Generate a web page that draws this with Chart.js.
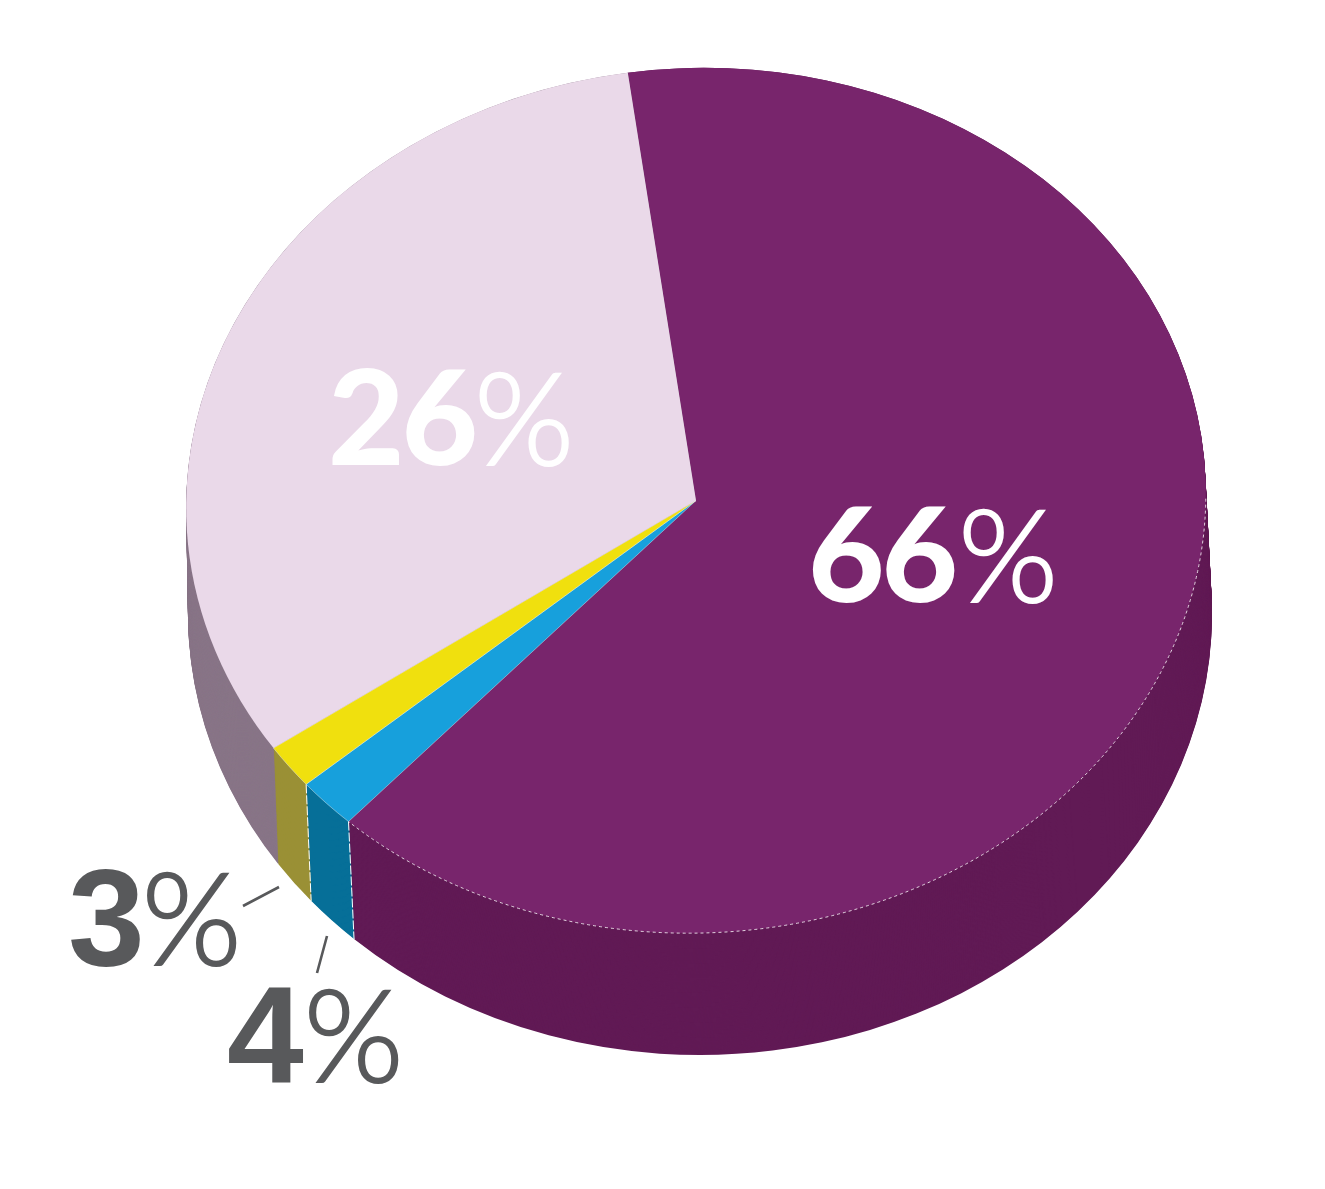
<!DOCTYPE html>
<html lang="en">
<head>
<meta charset="UTF-8">
<title>Pie</title>
<style>
    html, body { margin: 0; padding: 0; background: #fff; }
    #wrap { position: relative; width: 1325px; height: 1189px; overflow: hidden; }
    .lbl { position: absolute; white-space: nowrap; line-height: 1; font-family: Lato, sans-serif; font-weight: 900; }
    .lbl span { display: inline-block; font-weight: 300; font-family: Lato, sans-serif; -webkit-text-stroke: 2.2px currentColor; }
</style>
</head>
<body>
<div id="wrap"><canvas id="pie" width="1325" height="1189"></canvas></div>
<script src="https://cdn.jsdelivr.net/npm/chart.js"></script>
<script>
    // slice order is clockwise starting at the purple one
    const categories = ['66%', '4%', '3%', '26%'];
    // shares as drawn in the picture, the printed labels don't quite match the wedges
    const sliceShares = [64.07, 1.92, 1.69, 32.32];
    const topColors = ['#78256C', '#17A0DC', '#F0E00E', '#EAD9E9'];
    const sideColors = ['#611A55', '#066F98', '#9A9035', '#887587'];

    // top face and bottom rim of the disc, the picture is slightly skewed so both get a tilt/spin
    const topFace = { x: 696, y: 500.5, rx: 510, ry: 432.5, tilt: -0.046, spin: 0 };
    const bottomRim = { x: 700, y: 614, rx: 512, ry: 441, tilt: 0, spin: -0.047 };

    function mix(t) {
        const f = {};
        Object.keys(topFace).forEach(function (k) {
            f[k] = topFace[k] + (bottomRim[k] - topFace[k]) * t;
        });
        return f;
    }

    function faceTransform(ctx, arc, f) {
        ctx.translate(f.x, f.y);
        ctx.rotate(f.tilt);
        ctx.scale(f.rx / arc.outerRadius, f.ry / arc.outerRadius);
        ctx.rotate(f.spin);
        ctx.translate(-arc.x, -arc.y);
    }

    function rimPoint(f, a) {
        const u = f.rx * Math.cos(a + f.spin), v = f.ry * Math.sin(a + f.spin);
        return {
            x: f.x + u * Math.cos(f.tilt) - v * Math.sin(f.tilt),
            y: f.y + u * Math.sin(f.tilt) + v * Math.cos(f.tilt)
        };
    }

    const discPlugin = {
        id: 'disc',
        beforeDatasetsDraw(chart) {
            const ctx = chart.ctx;
            const arcs = chart.getDatasetMeta(0).data;
            const steps = 130;
            // stack the wall from the bottom rim up to the top face
            for (let s = steps; s >= 0; s--) {
                const f = mix(s / steps);
                arcs.forEach(function (arc, i) {
                    ctx.save();
                    faceTransform(ctx, arc, f);
                    ctx.beginPath();
                    ctx.moveTo(arc.x, arc.y);
                    ctx.arc(arc.x, arc.y, arc.outerRadius, arc.startAngle, arc.endAngle);
                    ctx.closePath();
                    ctx.fillStyle = sideColors[i];
                    ctx.fill();
                    ctx.restore();
                });
            }
            // dashed white joins on the wall
            ctx.save();
            ctx.strokeStyle = '#fff';
            ctx.lineWidth = 1;
            ctx.setLineDash([9, 2]);
            [1, 2].forEach(function (i) {
                const a = arcs[i].startAngle;
                const p = rimPoint(topFace, a), q = rimPoint(bottomRim, a);
                ctx.beginPath();
                ctx.moveTo(p.x, p.y);
                ctx.lineTo(q.x, q.y);
                ctx.stroke();
            });
            ctx.restore();
            // the library draws the top face inside this squashed transform
            ctx.save();
            faceTransform(ctx, arcs[0], topFace);
        },
        afterDatasetsDraw(chart) {
            const ctx = chart.ctx;
            const arcs = chart.getDatasetMeta(0).data;
            ctx.restore();
            // dotted highlight where the purple top meets its wall
            ctx.save();
            ctx.strokeStyle = 'rgba(255,255,255,0.8)';
            ctx.lineWidth = 1;
            ctx.setLineDash([3, 3]);
            ctx.beginPath();
            ctx.ellipse(topFace.x, topFace.y, topFace.rx, topFace.ry, topFace.tilt, 0.05, arcs[0].endAngle);
            ctx.stroke();
            ctx.restore();
            // leader lines for the two outside labels
            ctx.save();
            ctx.strokeStyle = '#58595B';
            ctx.lineWidth = 2.6;
            ctx.beginPath();
            ctx.moveTo(243, 906);
            ctx.lineTo(279, 887);
            ctx.moveTo(317, 973);
            ctx.lineTo(327, 936);
            ctx.stroke();
            ctx.restore();
        }
    };

    new Chart(document.getElementById('pie').getContext('2d'), {
        type: 'pie',
        data: {
            labels: categories,
            datasets: [{
                data: sliceShares,
                backgroundColor: topColors,
                borderColor: 'rgba(255,255,255,0.6)',
                borderWidth: [0, 0.7, 0.7, 0],
                clip: false
            }]
        },
        options: {
            responsive: false,
            animation: false,
            rotation: -5.45,
            radius: 510,
            layout: { padding: { left: 67, bottom: 189 } },
            plugins: { legend: { display: false }, tooltip: { enabled: false } }
        },
        plugins: [discPlugin]
    });

    // label text, [text, left, top, digit size, digit spacing, colour, digit font, % size, % gap]
    const labelBoxes = [
        ['66%', 808, 485, 132, -3, '#fff', 'Lato', 128, 3],
        ['26%', 328, 348, 132, -3, '#fff', 'Lato', 128, -1],
        ['3%', 68, 843, 138, 0, '#58595B', '"Liberation Sans"', 128, -3],
        ['4%', 227, 960, 138, 0, '#58595B', '"Liberation Sans"', 128, 0]
    ];
    labelBoxes.forEach(function (b) {
        const d = document.createElement('div');
        d.className = 'lbl';
        d.style.left = b[1] + 'px';
        d.style.top = b[2] + 'px';
        d.style.fontSize = b[3] + 'px';
        d.style.color = b[5];
        const num = document.createElement('b');
        num.textContent = b[0].replace('%', '');
        num.style.letterSpacing = b[4] + 'px';
        num.style.fontFamily = b[6];
        num.style.fontWeight = b[6] === 'Lato' ? 900 : 700;
        const pct = document.createElement('span');
        pct.textContent = '%';
        pct.style.fontSize = b[7] + 'px';
        pct.style.marginLeft = b[8] + 'px';
        d.appendChild(num);
        d.appendChild(pct);
        document.getElementById('wrap').appendChild(d);
    });
</script>
</body>
</html>
